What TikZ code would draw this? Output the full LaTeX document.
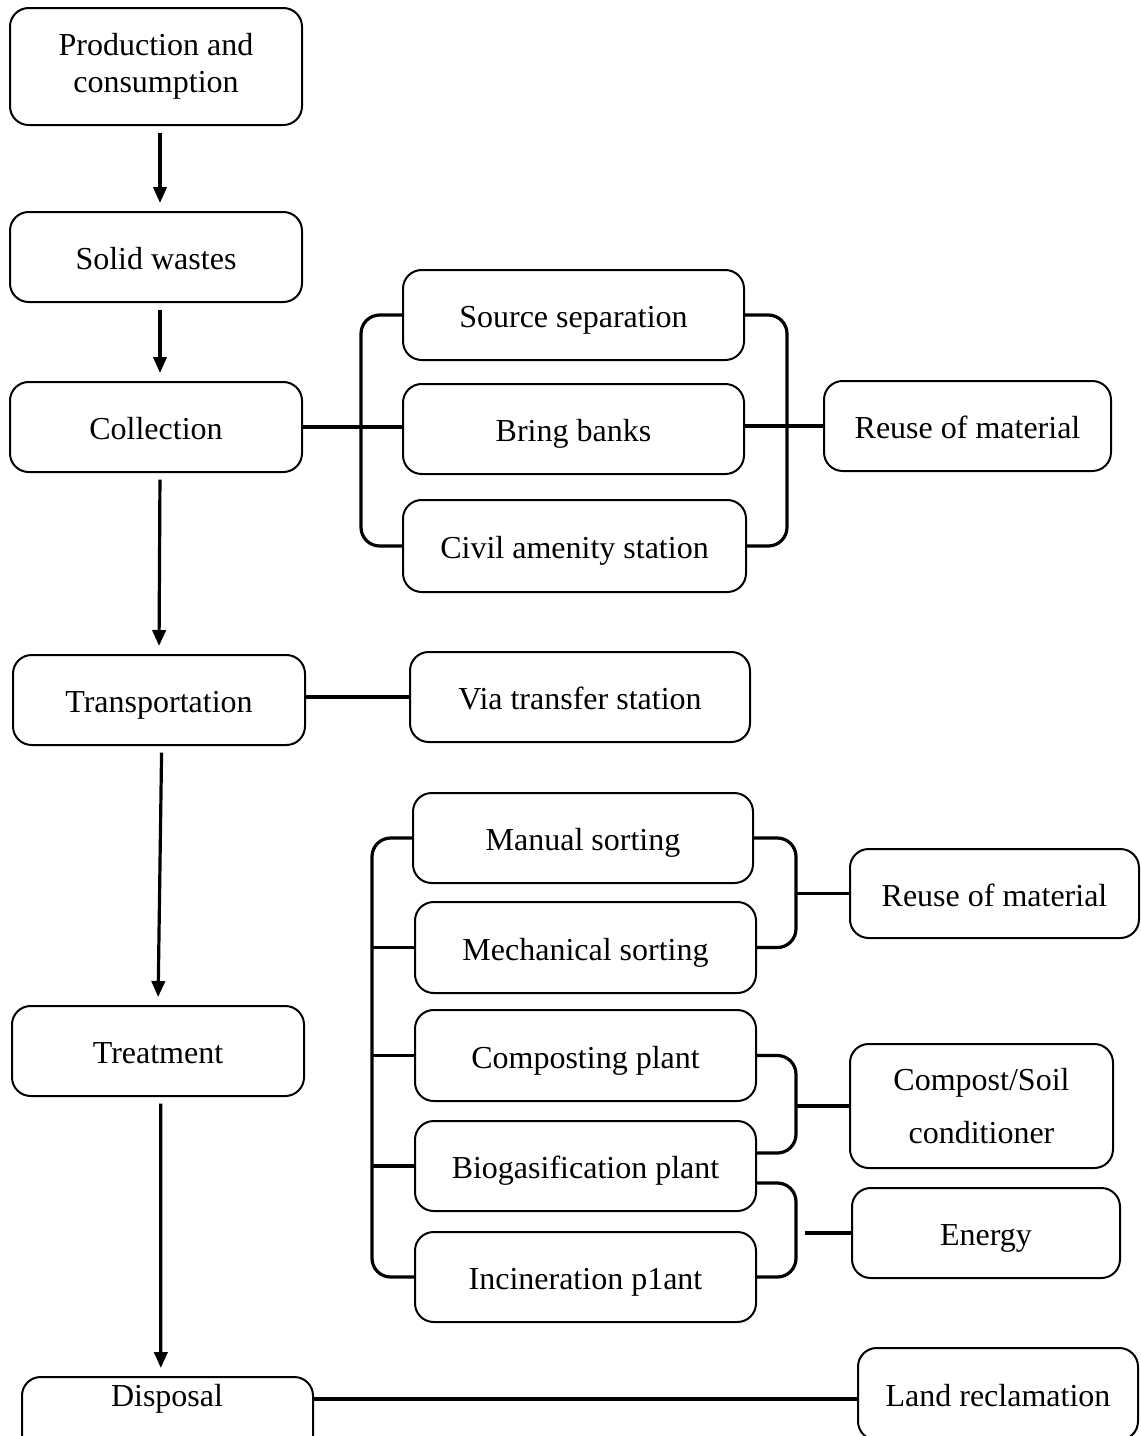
\documentclass[tikz,border=0pt]{standalone}
\usepackage{fontspec}
\setmainfont{Liberation Serif}
\usetikzlibrary{arrows.meta}
% rounded box given by its corners (in pixel units) and its text
\newcommand\boxnode[7][oneline]{%
  \pgfmathsetmacro\bxw{(#5-#3)*0.75}%
  \pgfmathsetmacro\bxh{(#6-#4)*0.75}%
  \node[box, #1, minimum width=\bxw pt, minimum height=\bxh pt] (#2)
    at ({(#3+#5)/2},{(#4+#6)/2}) {#7};}
\begin{document}
\begin{tikzpicture}[x=0.75pt,y=-0.75pt,
  txt/.style={font=\fontsize{24}{28}\selectfont, align=center},
  box/.style={txt, draw, line width=1.5pt, rounded corners=14pt, inner sep=0pt},
  oneline/.style={text height=19pt, text depth=0pt},
  multiline/.style={},
  conn/.style={line width=2.4pt},
  brk/.style={conn, rounded corners=14pt},
  arr/.style={line width=2.4pt, -{Triangle[length=12pt,width=10pt]},
              shorten <=5pt, shorten >=6pt}]
\useasboundingbox (0,0) rectangle (1141,1436);
\clip (0,0) rectangle (1141,1436);

% main chain
\boxnode[multiline]{prod}{10}{8}{302}{125}{Production and\\consumption}
\boxnode{solid}{10}{212}{302}{302}{Solid wastes}
\boxnode{coll}{10}{382}{302}{472}{Collection}
\boxnode{trans}{13}{655}{305}{745}{Transportation}
\boxnode{treat}{12}{1006}{304}{1096}{Treatment}
\boxnode{disp}{22}{1377}{313}{1467}{}
\node[txt] (disptxt) at (167,1399) {Disposal};

% collection options
\boxnode{src}{403}{270}{744}{360}{Source separation}
\boxnode{bring}{403}{384}{744}{474}{Bring banks}
\boxnode{civ}{403}{500}{746}{592}{Civil amenity station}
\boxnode{reuseA}{824}{381}{1111}{471}{Reuse of material}

% transport option
\boxnode{via}{410}{652}{750}{742}{Via transfer station}

% treatment options
\boxnode{man}{413}{793}{753}{883}{Manual sorting}
\boxnode{mech}{415}{902}{756}{993}{Mechanical sorting}
\boxnode{comp}{415}{1010}{756}{1101}{Composting plant}
\boxnode{bio}{415}{1121}{756}{1211}{Biogasification plant}
\boxnode{inc}{415}{1232}{756}{1322}{Incineration p1ant}

% products
\boxnode{reuseB}{850}{849}{1139}{938}{Reuse of material}
\boxnode[multiline]{compost}{850}{1044}{1113}{1168}{Compost/Soil\\[12pt]conditioner}
\boxnode{energy}{852}{1188}{1120}{1278}{Energy}
\boxnode{land}{858}{1348}{1138}{1440}{Land reclamation}

% downward arrows
\draw[arr] ([xshift=3pt]prod.south)  -- ([xshift=3pt]solid.north);
\draw[arr] ([xshift=3pt]solid.south) -- ([xshift=3pt]coll.north);
\draw[arr] ([xshift=3pt]coll.south)  -- ([xshift=0pt]trans.north);
\draw[arr] ([xshift=2pt]trans.south) -- ([xshift=0pt]treat.north);
\draw[arr] ([xshift=2pt]treat.south) -- ([xshift=-5pt]disp.north);

% guide lines for the brackets
\coordinate (lb1) at (361,0);
\coordinate (rb1) at (787,0);
\coordinate (lb2) at (372,0);
\coordinate (rb2) at (796,0);
\coordinate (est) at (805,0);
\coordinate (bioU) at ([yshift=9.75pt]bio.east);
\coordinate (bioD) at ([yshift=-12.75pt]bio.east);

% collection brackets
\draw[conn] (coll.east) -- (coll.east -| bring.west);
\draw[brk] (src.west) -- (lb1 |- src.west) -- (lb1 |- civ.west) -- (civ.west);
\draw[brk] (src.east) -- (rb1 |- src.east) -- (rb1 |- civ.east) -- (civ.east);
\draw[conn] (bring.east |- reuseA.west) -- (reuseA.west);

% transportation link
\draw[conn] (trans.east |- via.west) -- (via.west);

% treatment brackets
\draw[brk] (man.west) -- (lb2 |- man.west) -- (lb2 |- inc.west) -- (inc.west);
\draw[conn] (lb2 |- mech.west) -- (mech.west);
\draw[conn] (lb2 |- comp.west) -- (comp.west);
\draw[conn] (lb2 |- bio.west) -- (bio.west);

\draw[brk] (man.east) -- (rb2 |- man.east) -- (rb2 |- mech.east) -- (mech.east);
\draw[conn] (rb2 |- reuseB.west) -- (reuseB.west);

\draw[brk] (comp.east) -- (rb2 |- comp.east) -- (rb2 |- bioU) -- (bioU);
\draw[conn] (rb2 |- compost.west) -- (compost.west);

\draw[brk] (bioD) -- (rb2 |- bioD) -- (rb2 |- inc.east) -- (inc.east);
\draw[conn] (est |- energy.west) -- (energy.west);

% disposal link
\draw[conn] (disp.east |- disptxt) -- (land.west |- disptxt);
\end{tikzpicture}
\end{document}
